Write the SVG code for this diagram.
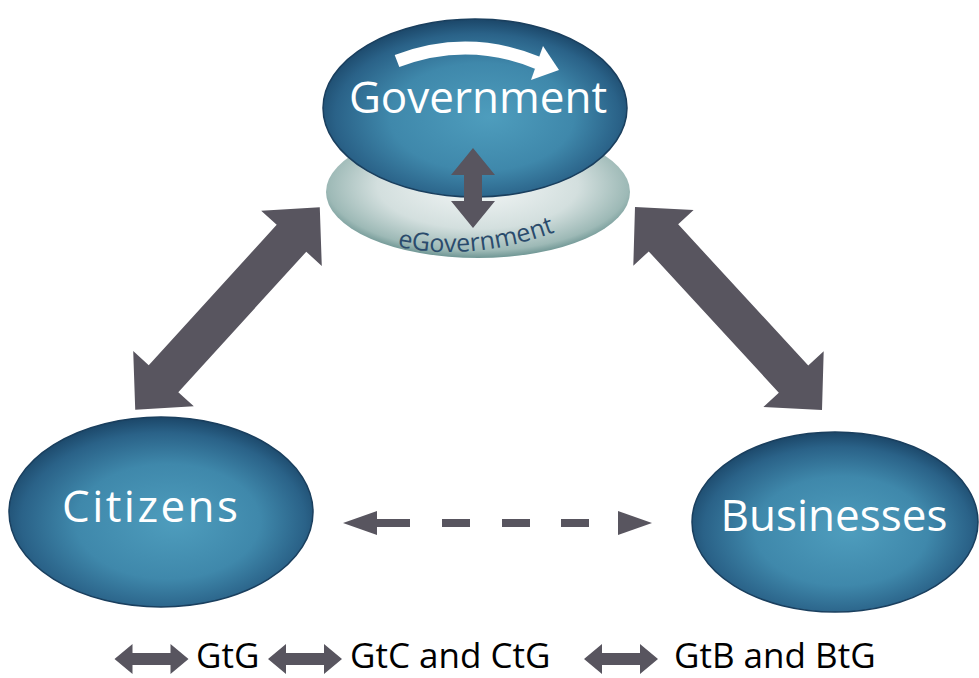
<svg xmlns="http://www.w3.org/2000/svg" width="979" height="678" viewBox="0 0 979 678">
  <defs>
    <radialGradient id="blue" cx="50%" cy="55%" r="55%" fx="55%" fy="55%">
      <stop offset="0" stop-color="#4e9dbd"/>
      <stop offset="0.55" stop-color="#3f88ab"/>
      <stop offset="0.85" stop-color="#2a6288"/>
      <stop offset="1" stop-color="#1b4668"/>
    </radialGradient>
    <radialGradient id="base" cx="50%" cy="45%" r="55%">
      <stop offset="0" stop-color="#f4f7f7"/>
      <stop offset="0.6" stop-color="#d3dfde"/>
      <stop offset="0.9" stop-color="#9db9b6"/>
      <stop offset="1" stop-color="#6f9694"/>
    </radialGradient>
    <path id="arc" d="M 386 244 Q 470 266 566 228"/>
  </defs>
  <style>
    .arrow { fill: #58555f; }
    .node { stroke: #1a3f5e; stroke-width: 1.5; }
    .label { font-family: "Open Sans", "Liberation Sans", sans-serif; fill: #ffffff; text-anchor: middle; }
    .legend { font-family: "Open Sans", "Liberation Sans", sans-serif; font-size: 35px; fill: #000000; }
  </style>

  <g id="connectors">
    <polygon class="arrow" transform="translate(227.5 308.5) rotate(-47.66)" points="-137,0 -95,-41 -95,-20 95,-20 95,-41 137,0 95,41 95,20 -95,20 -95,41"/>
    <polygon class="arrow" transform="translate(728.5 308.5) rotate(47.35)" points="-138,0 -96,-41 -96,-20 96,-20 96,-41 138,0 96,41 96,20 -96,20 -96,41"/>
    <g id="dashed">
      <polygon class="arrow" points="343,523 377,511 377,519 410,519 410,527 377,527 377,535"/>
      <rect class="arrow" x="442" y="519" width="28" height="8"/>
      <rect class="arrow" x="502" y="519" width="28" height="8"/>
      <rect class="arrow" x="561" y="519" width="28" height="8"/>
      <polygon class="arrow" points="618,511 652,523 618,535"/>
    </g>
  </g>

  <g id="egovernment">
    <ellipse cx="478" cy="192" rx="152" ry="66" fill="url(#base)"/>
    <text font-family="'Open Sans', 'Liberation Sans', sans-serif" font-size="25" fill="#2a4b6c"><textPath href="#arc" startOffset="50%" text-anchor="middle">eGovernment</textPath></text>
  </g>

  <g id="government">
    <ellipse class="node" cx="475" cy="108" rx="152" ry="89" fill="url(#blue)"/>
    <text class="label" x="478" y="113" font-size="44">Government</text>
    <path d="M 397 61 Q 468 34 538 63" fill="none" stroke="#ffffff" stroke-width="13"/>
    <polygon points="543,46 559,70 531,80" fill="#ffffff"/>
  </g>

  <g id="gov-arrow">
    <polygon class="arrow" transform="translate(473 188) rotate(90)" points="-40,0 -13,-22 -13,-9 13,-9 13,-22 40,0 13,22 13,9 -13,9 -13,22"/>
  </g>

  <g id="citizens">
    <ellipse class="node" cx="161" cy="512" rx="152" ry="95" fill="url(#blue)"/>
    <text class="label" x="150" y="522" font-size="44" textLength="176">Citizens</text>
  </g>

  <g id="businesses">
    <ellipse class="node" cx="835" cy="522" rx="143" ry="90" fill="url(#blue)"/>
    <text class="label" x="834" y="531" font-size="44">Businesses</text>
  </g>

  <g id="legend">
    <polygon class="arrow" transform="translate(151.5 659)" points="-37,0 -19,-15 -19,-6 19,-6 19,-15 37,0 19,15 19,6 -19,6 -19,15"/>
    <text class="legend" x="196" y="668">GtG</text>
    <polygon class="arrow" transform="translate(305 659)" points="-37,0 -19,-15 -19,-6 19,-6 19,-15 37,0 19,15 19,6 -19,6 -19,15"/>
    <text class="legend" x="350" y="668">GtC and CtG</text>
    <polygon class="arrow" transform="translate(621 659)" points="-37,0 -19,-15 -19,-6 19,-6 19,-15 37,0 19,15 19,6 -19,6 -19,15"/>
    <text class="legend" x="674" y="668">GtB and BtG</text>
  </g>
</svg>
